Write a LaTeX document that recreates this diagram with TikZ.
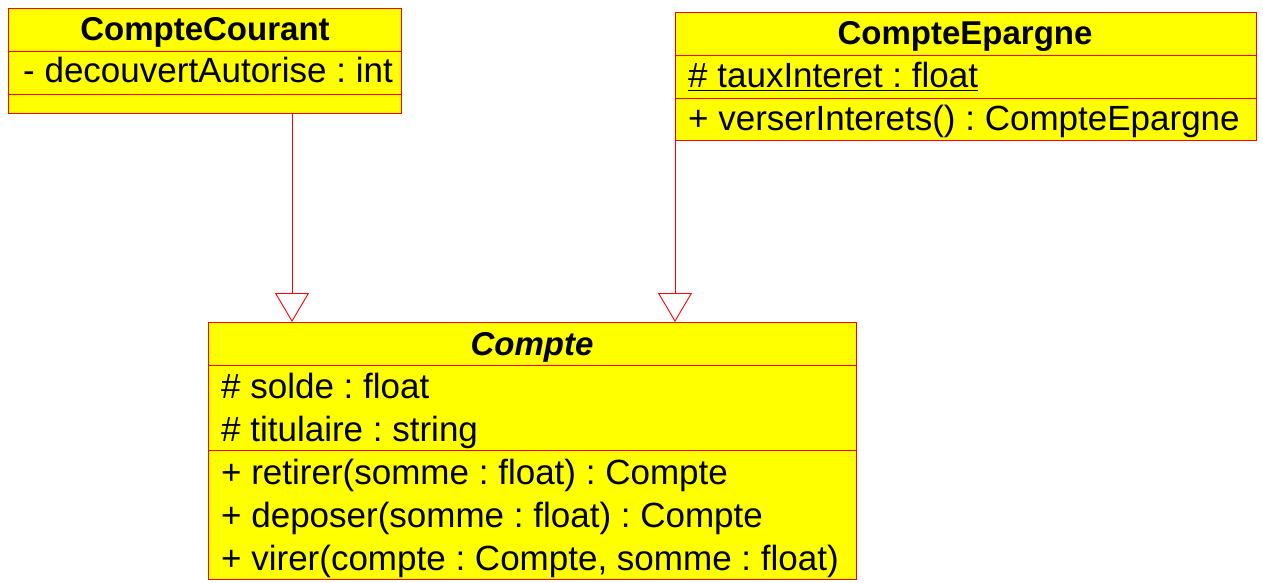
\documentclass[tikz,border=0pt]{standalone}
\usepackage{fontspec}
\setmainfont{Liberation Sans}
\usetikzlibrary{arrows.meta}
\definecolor{umlred}{RGB}{255,0,0}
\definecolor{umlyellow}{RGB}{255,255,0}
\frenchspacing
\begin{document}
\begin{tikzpicture}[x=1pt,y=-1pt,
  classbox/.style={draw=umlred, fill=umlyellow, line width=0.9pt, inner sep=0pt, outer sep=0pt, anchor=north west},
  divider/.style={draw=umlred, line width=0.9pt},
  member/.style={inner sep=0pt, anchor=base west, font=\fontsize{35}{40}\selectfont\frenchspacing},
  classtitle/.style={inner sep=0pt, anchor=base, font=\fontsize{33}{40}\selectfont\bfseries},
  inherit/.style={draw=umlred, line width=0.9pt, -{Triangle[open, length=29pt, width=34pt, fill=white]}}
]
\useasboundingbox (0,0) rectangle (1263,583);

% CompteCourant
\node[classbox, minimum width=393pt, minimum height=105pt] (cc) at (8,8) {};
\draw[divider] ([yshift=-43pt]cc.north west) -- ([yshift=-43pt]cc.north east);
\draw[divider] ([yshift=-86pt]cc.north west) -- ([yshift=-86pt]cc.north east);
\node[classtitle] (cct) at (205,41) {CompteCourant};
\node[member] (cca) at (23,83) {- decouvertAutorise : int};

% CompteEpargne
\node[classbox, minimum width=581pt, minimum height=128pt] (ce) at (675,12) {};
\draw[divider] ([yshift=-43pt]ce.north west) -- ([yshift=-43pt]ce.north east);
\draw[divider] ([yshift=-86pt]ce.north west) -- ([yshift=-86pt]ce.north east);
\node[classtitle] (cet) at (965,45) {CompteEpargne};
\node[member] (cea) at (688,88) {\underline{\# tauxInteret : float}};
\node[member] (ceo) at (688,131) {+ verserInterets() : CompteEpargne};

% Compte
\node[classbox, minimum width=648pt, minimum height=257pt] (co) at (208,322) {};
\draw[divider] ([yshift=-43pt]co.north west) -- ([yshift=-43pt]co.north east);
\draw[divider] ([yshift=-128pt]co.north west) -- ([yshift=-128pt]co.north east);
\node[classtitle, font=\fontsize{33}{40}\selectfont\bfseries\itshape] (cot) at (532,355) {Compte};
\node[member] (coa1) at (221,398) {\# solde : float};
\node[member] (coa2) at (221,441) {\# titulaire : string};
\node[member] (coo1) at (221,484) {+ retirer(somme : float) : Compte};
\node[member] (coo2) at (221,527) {+ deposer(somme : float) : Compte};
\node[member] (coo3) at (221,570) {+ virer(compte : Compte, somme : float)};

% inheritance
\coordinate (ccfoot) at ([xshift=284pt]cc.south west);
\draw[inherit] (ccfoot) -- (ccfoot |- co.north);
\draw[inherit] (ce.south west) -- (ce.south west |- co.north);
\end{tikzpicture}
\end{document}
